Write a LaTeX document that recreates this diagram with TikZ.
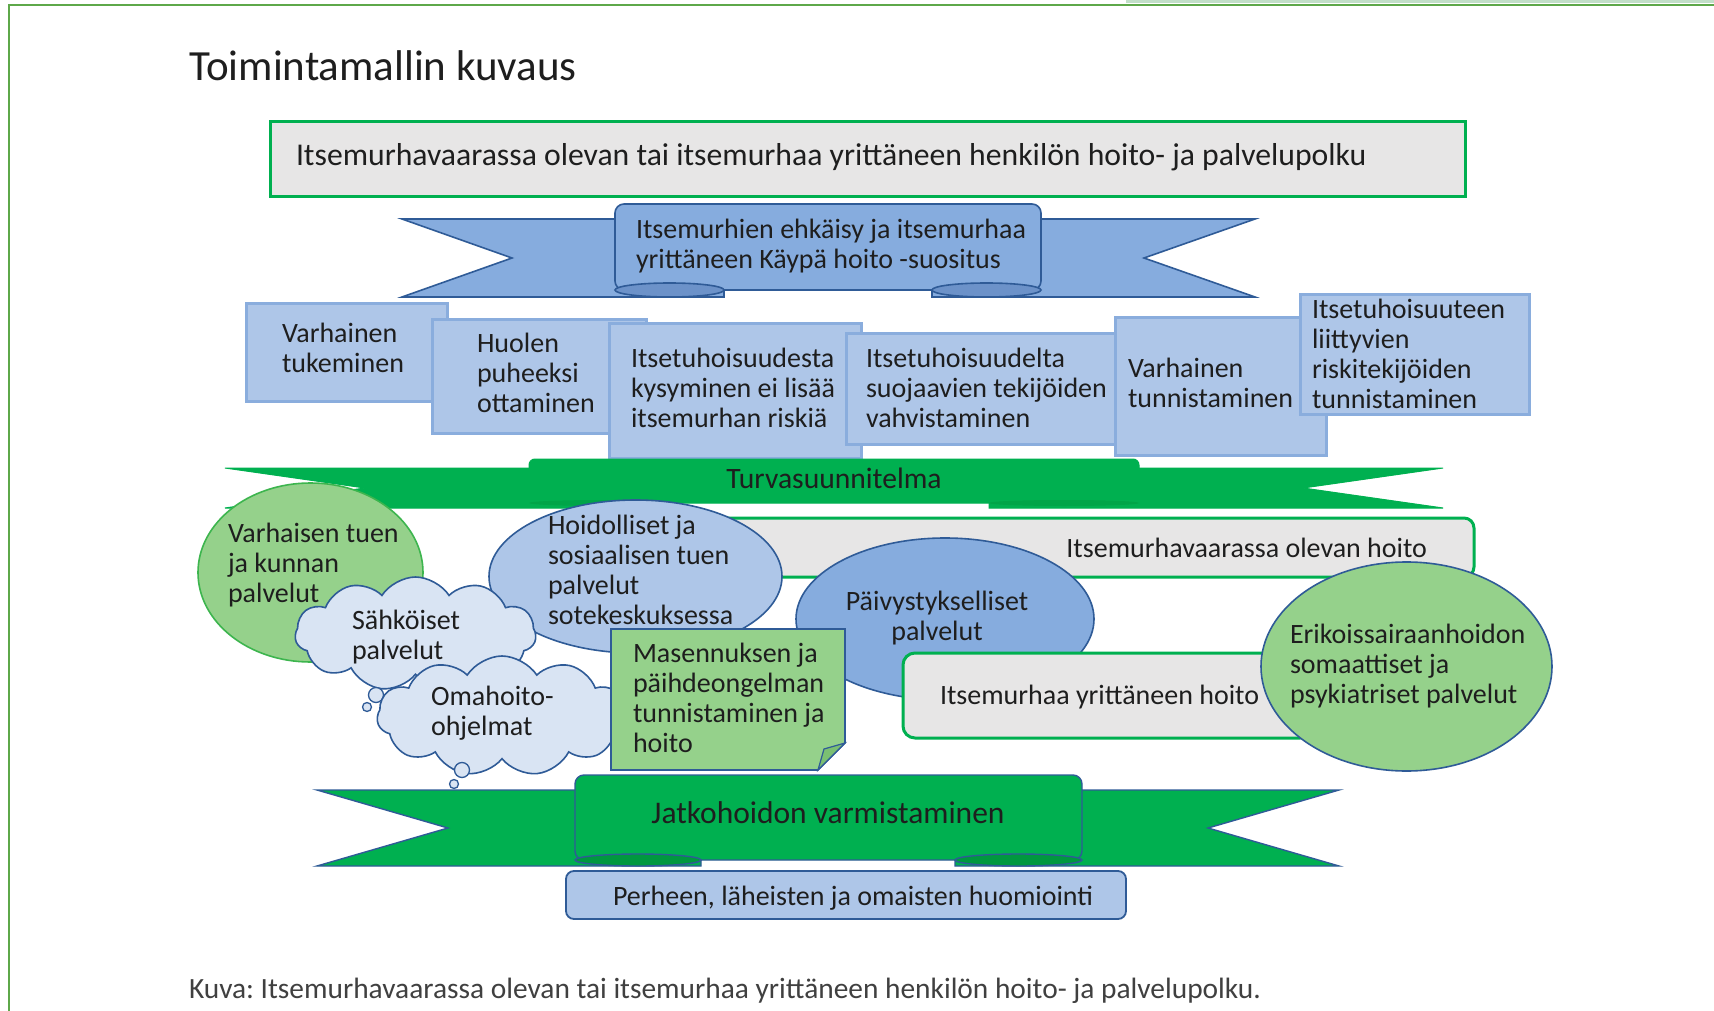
\documentclass[tikz,border=0pt]{standalone}
\usepackage{fontspec}
\setmainfont{Carlito}
\frenchspacing
\usetikzlibrary{shapes.geometric,shapes.symbols}
\definecolor{txtc}{HTML}{1E1E1E}
\definecolor{capc}{HTML}{404040}
\definecolor{framegreen}{HTML}{5EA84A}
\definecolor{bandgreen}{HTML}{C2DFC8}
\definecolor{brightgreen}{HTML}{00B050}
\definecolor{darkgreen}{HTML}{00983F}
\definecolor{softgreen}{HTML}{00A548}
\definecolor{lightgreen}{HTML}{95D18B}
\definecolor{foldgreen}{HTML}{7BBF72}
\definecolor{greyfill}{HTML}{E7E6E6}
\definecolor{boxblue}{HTML}{AEC6E8}
\definecolor{boxedge}{HTML}{8AADDD}
\definecolor{midblue}{HTML}{86ACDE}
\definecolor{foldblue}{HTML}{6C92C9}
\definecolor{navy}{HTML}{2F5B97}
\definecolor{cloudfill}{HTML}{D9E4F3}
\definecolor{circlegreen}{HTML}{3DB54E}
\tikzset{
  txt/.style={font=\fontsize{28}{30}\selectfont, text=txtc, inner sep=0pt, outer sep=0pt},
  mtxt/.style={txt, align=left, anchor=north west, yshift=-3pt, execute at begin node=\strut, execute at end node=\strut},
  stxt/.style={txt, anchor=base west},
  lbox/.style={rectangle, draw=boxedge, fill=boxblue, line width=2.5pt, inner sep=0pt, anchor=north west},
  ribblue/.style={fill=midblue, draw=navy, line width=1.6pt},
  ribgreen/.style={fill=brightgreen, draw=brightgreen, line width=1pt},
  ribgreenb/.style={fill=brightgreen, draw=navy, line width=1.4pt},
  greybox/.style={rectangle, draw=brightgreen, fill=greyfill, line width=3pt, inner sep=0pt},
  oval/.style={ellipse, line width=1.6pt, inner sep=0pt},
  puff/.style={cloud, cloud puffs=11, cloud puff arc=115, cloud ignores aspect, draw=navy, fill=cloudfill, line width=1.6pt, inner sep=0pt},
  bubble/.style={circle, draw=navy, fill=cloudfill, line width=1.3pt, inner sep=0pt}
}
\begin{document}
\begin{tikzpicture}[x=1pt,y=-1pt]
\useasboundingbox (0,0) rectangle (1714,1011);
\fill[white] (0,0) rectangle (1714,1011);
% frame
\fill[bandgreen] (1126,0) rectangle (1714,3.5);
\draw[framegreen, line width=2.5pt] (9,1011) -- (9,5) -- (1714,5);
% heading
\node[stxt, font=\fontsize{43}{47}\selectfont] (heading) at (189,81) {Toimintamallin kuvaus};
% title bar
\node[greybox, minimum width=1195pt, minimum height=75pt] (pathbox) at (867.5,159.5) {};
\node[stxt, font=\fontsize{31.7}{34}\selectfont] (pathtxt) at (296,166) {Itsemurhavaarassa olevan tai itsemurhaa yrittäneen henkilön hoito- ja palvelupolku};
% blue ribbon
\path[ribblue] (402,219) -- (724,219) -- (724,297) -- (402,297) -- (512,258) -- cycle;
\path[ribblue] (1255,219) -- (932,219) -- (932,297) -- (1255,297) -- (1144,258) -- cycle;
\path[ribblue, rounded corners=9pt] (615,204) rectangle (1041,290);
\path[fill=foldblue, draw=navy, line width=1.6pt] (669.5,290) ellipse [x radius=54.5pt, y radius=7pt];
\path[fill=foldblue, draw=navy, line width=1.6pt] (986.5,290) ellipse [x radius=54.5pt, y radius=7pt];
\node[mtxt] (kaypa) at (636,216) {Itsemurhien ehkäisy ja itsemurhaa\\yrittäneen Käypä hoito -suositus};
% row of boxes
\node[lbox, minimum width=201pt, minimum height=98pt] (b1) at (245,302) {};
\node[mtxt] (b1t) at (282,320) {Varhainen\\tukeminen};
\node[lbox, minimum width=214pt, minimum height=114pt] (b2) at (431,318) {};
\node[mtxt] (b2t) at (477,330) {Huolen\\puheeksi\\ottaminen};
\node[lbox, minimum width=252pt, minimum height=135pt] (b3) at (608,322) {};
\node[mtxt] (b3t) at (631,345) {Itsetuhoisuudesta\\kysyminen ei lisää\\itsemurhan riskiä};
\node[lbox, minimum width=269pt, minimum height=111pt] (b4) at (845,332) {};
\node[mtxt] (b4t) at (866,345) {Itsetuhoisuudelta\\suojaavien tekijöiden\\vahvistaminen};
\node[lbox, minimum width=211pt, minimum height=138pt] (b5) at (1114,316) {};
\node[mtxt] (b5t) at (1128,355) {Varhainen\\tunnistaminen};
\node[lbox, minimum width=229pt, minimum height=120pt] (b6) at (1299,293) {};
\node[mtxt] (b6t) at (1312,296) {Itsetuhoisuuteen\\liittyvien\\riskitekijöiden\\tunnistaminen};
% Turvasuunnitelma ribbon
\path[ribgreen] (225,468) -- (679,468) -- (679,508) -- (225,508) -- (365,488) -- cycle;
\path[ribgreen] (1443,468) -- (989,468) -- (989,508) -- (1443,508) -- (1303,488) -- cycle;
\path[ribgreen, rounded corners=6pt] (529,459) rectangle (1139,503);
\path[fill=softgreen] (604,503) ellipse [x radius=75pt, y radius=3pt];
\path[fill=softgreen] (1064,503) ellipse [x radius=75pt, y radius=3pt];
\node[stxt, anchor=base, font=\fontsize{29.6}{32}\selectfont] (turva) at (834,488) {Turvasuunnitelma};
% care of persons at risk
\node[greybox, rounded corners=10pt, minimum width=764pt, minimum height=59pt] (riskbox) at (1092,547.5) {};
\node[stxt, anchor=base east] (risktxt) at (1427,557) {Itsemurhavaarassa olevan hoito};
% early support circle
\node[oval, draw=circlegreen, fill=lightgreen, minimum width=225pt, minimum height=179pt] (early) at (310.5,572.5) {};
\node[mtxt] (earlyt) at (228,520.5) {Varhaisen tuen\\ja kunnan\\palvelut};
% sote ellipse
\node[oval, draw=navy, fill=boxblue, minimum width=293pt, minimum height=153pt] (sote) at (635.5,576.5) {};
\node[mtxt] (sotet) at (548,512.5) {Hoidolliset ja\\sosiaalisen tuen\\palvelut\\sotekeskuksessa};
% electronic services cloud
\node[puff, minimum width=241pt, minimum height=114pt] (ecloud) at (415.5,634) {};
\node[mtxt] (ecloudt) at (352,607.5) {Sähköiset\\palvelut};
\node[bubble, minimum size=15pt] (eb1) at (376,695) {};
\node[bubble, minimum size=9pt] (eb2) at (367,707) {};
% self care cloud
\node[puff, minimum width=250pt, minimum height=120pt] (scloud) at (502,716) {};
\node[mtxt] (scloudt) at (431,683.5) {Omahoito-\\ohjelmat};
% emergency ellipse
\node[oval, draw=navy, fill=midblue, minimum width=298pt, minimum height=162pt] (emerg) at (945,619) {};
\node[txt, align=center, anchor=north, yshift=-3pt, execute at begin node=\strut, execute at end node=\strut] (emergt) at (937,588.5) {Päivystykselliset\\palvelut};
% attempted suicide care
\node[greybox, rounded corners=12pt, minimum width=409pt, minimum height=85pt] (attbox) at (1107.5,695.5) {};
\node[stxt] (atttxt) at (940,704.5) {Itsemurhaa yrittäneen hoito};
% depression note
\path[fill=lightgreen, draw=navy, line width=1.6pt] (611,629) -- (845,629) -- (845,743) -- (818,770) -- (611,770) -- cycle;
\path[fill=foldgreen, draw=navy, line width=1.2pt] (845,743) -- (818,770) -- (824,749) -- cycle;
\node[mtxt] (deprt) at (633,640.5) {Masennuksen ja\\päihdeongelman\\tunnistaminen ja\\hoito};
% specialised care circle
\node[oval, draw=navy, fill=lightgreen, minimum width=291pt, minimum height=209pt] (spec) at (1406.5,666.5) {};
\node[mtxt] (spect) at (1290,621.5) {Erikoissairaanhoidon\\somaattiset ja\\psykiatriset palvelut};
% follow-up ribbon
\path[ribgreenb] (317,790) -- (701,790) -- (701,866) -- (317,866) -- (448,828) -- cycle;
\path[ribgreenb] (1339,790) -- (955,790) -- (955,866) -- (1339,866) -- (1208,828) -- cycle;
\path[ribgreenb, rounded corners=9pt] (575,775) rectangle (1082,860);
\path[fill=darkgreen, draw=navy, line width=1.4pt] (638,860) ellipse [x radius=63pt, y radius=6pt];
\path[fill=darkgreen, draw=navy, line width=1.4pt] (1018.5,860) ellipse [x radius=63.5pt, y radius=6pt];
\node[stxt, anchor=base, font=\fontsize{31.5}{34}\selectfont] (jatkot) at (828,823) {Jatkohoidon varmistaminen};
% self care bubbles
\node[bubble, minimum size=15pt] (sb1) at (462,770) {};
\node[bubble, minimum size=9pt] (sb2) at (454,784) {};
% family box
\node[rectangle, rounded corners=8pt, draw=navy, fill=boxblue, line width=1.8pt, minimum width=560pt, minimum height=48pt, inner sep=0pt] (family) at (846,895) {};
\node[stxt] (familyt) at (613,905) {Perheen, läheisten ja omaisten huomiointi};
% caption
\node[stxt, text=capc, font=\fontsize{29.4}{32}\selectfont] (caption) at (189,998) {Kuva: Itsemurhavaarassa olevan tai itsemurhaa yrittäneen henkilön hoito- ja palvelupolku.};
\end{tikzpicture}
\end{document}
